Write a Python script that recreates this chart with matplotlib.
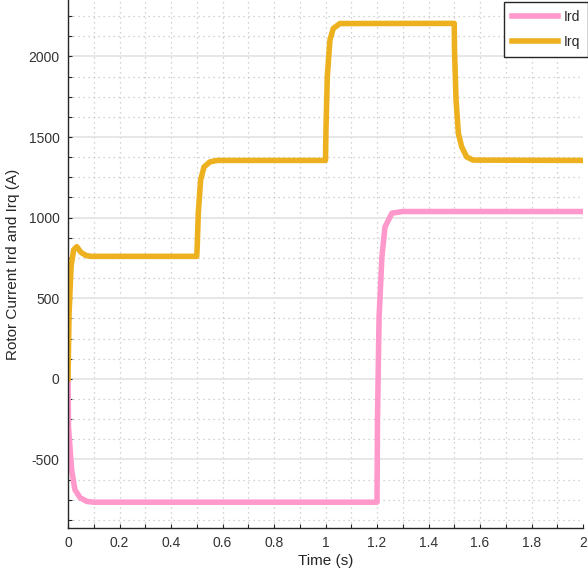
import numpy as np
import matplotlib
matplotlib.use('Agg')
import matplotlib.pyplot as plt
from matplotlib.ticker import MultipleLocator

# breakpoints
t_ird = [0, 0.002, 0.014, 0.027, 0.047, 0.073, 0.1, 1.2, 1.202, 1.208, 1.219, 1.231, 1.258, 1.3, 2.0]
ird = [0, -300, -564, -688, -737, -760, -765, -765, -240, 380, 756, 942, 1028, 1038, 1038]

t_irq = [0, 0.004, 0.012, 0.022, 0.034, 0.05, 0.07, 0.09, 0.5, 0.502, 0.506, 0.515, 0.528, 0.551, 0.58,
         1.0, 1.002, 1.007, 1.017, 1.030, 1.056, 1.5, 1.501, 1.507, 1.516, 1.529, 1.548, 1.573, 2.0]
irq = [0, 400, 700, 800, 820, 785, 765, 760, 760, 830, 1028, 1233, 1314, 1346, 1355,
       1355, 1563, 1873, 2100, 2173, 2204, 2205, 2038, 1729, 1522, 1439, 1377, 1357, 1355]

y_ticks = [-500, 0, 500, 1000, 1500, 2000]
x_ticks = [0, 0.2, 0.4, 0.6, 0.8, 1, 1.2, 1.4, 1.6, 1.8, 2]

plt.rcParams['font.family'] = ['Liberation Sans', 'DejaVu Sans']
plt.rcParams['axes.unicode_minus'] = False

fig = plt.figure(figsize=(5.88, 5.77), dpi=100)
ax = fig.add_axes([68/588, 1-528/577, 515/588, 528/577])

ax.plot(t_ird, ird, color='#ff99cc', lw=4, label='Ird', solid_joinstyle='round')
ax.plot(t_irq, irq, color='#edb120', lw=4, label='Irq', solid_joinstyle='round')

ax.set_xlim(0, 2)
ax.set_ylim(-925, 2350)
ax.set_xticks(x_ticks)
ax.set_xticklabels(['0', '0.2', '0.4', '0.6', '0.8', '1', '1.2', '1.4', '1.6', '1.8', '2'])
ax.set_yticks(y_ticks)
ax.xaxis.set_minor_locator(MultipleLocator(0.1))
ax.yaxis.set_minor_locator(MultipleLocator(125))

ax.yaxis.grid(True, which='major', color='#e3e3e3', lw=1.2, ls='-')
ax.yaxis.grid(True, which='minor', color='#c4c4c4', lw=0.9, ls=(0, (1, 3)))
ax.xaxis.grid(True, which='both', color='#c4c4c4', lw=0.9, ls=(0, (1, 3)))
ax.set_axisbelow(True)

for s in ['top', 'right']:
    ax.spines[s].set_visible(False)
for s in ['left', 'bottom']:
    ax.spines[s].set_color('#262626')
    ax.spines[s].set_linewidth(1.0)

ax.tick_params(which='both', direction='in', length=3, width=0.8, color='#262626',
               labelsize=10, labelcolor='#333333', pad=6)

ax.set_xlabel('Time (s)', fontsize=11, color='#262626', labelpad=3)
ax.set_ylabel('Rotor Current Ird and Irq (A)', fontsize=11, color='#262626', labelpad=6)

leg = ax.legend(loc='lower left', bbox_to_anchor=(504/588, 1-57/577), bbox_transform=fig.transFigure,
                fontsize=10, frameon=True, fancybox=False, framealpha=1, edgecolor='#262626',
                handlelength=3.3, labelspacing=0.75, borderpad=0.6, handletextpad=0.4, borderaxespad=0)
leg.get_frame().set_linewidth(1.0)
for txt in leg.get_texts():
    txt.set_color('#262626')

fig.savefig('out.png', dpi=100)
